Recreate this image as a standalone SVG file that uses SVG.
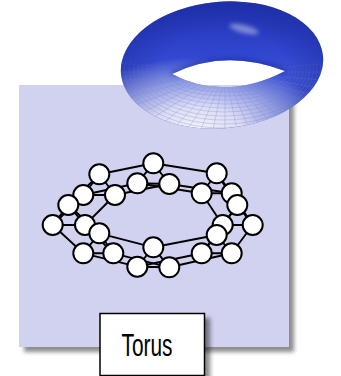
<svg xmlns="http://www.w3.org/2000/svg" width="341" height="376" viewBox="0 0 341 376">
  <defs>
    <filter id="dropShadow" x="-10%" y="-10%" width="130%" height="130%">
      <feGaussianBlur in="SourceAlpha" stdDeviation="2"/>
      <feOffset dx="5" dy="5" result="blur"/>
      <feComponentTransfer><feFuncA type="linear" slope="0.45"/></feComponentTransfer>
      <feMerge><feMergeNode/><feMergeNode in="SourceGraphic"/></feMerge>
    </filter>
    <filter id="softer" x="-50%" y="-50%" width="200%" height="200%">
      <feGaussianBlur stdDeviation="2"/>
    </filter>
    <!-- vertical shading of the torus body -->
    <linearGradient id="torusBody" gradientUnits="userSpaceOnUse" x1="0" y1="5" x2="0" y2="131">
      <stop offset="0" stop-color="#2234b4"/>
      <stop offset="0.4" stop-color="#3147d0"/>
      <stop offset="0.65" stop-color="#3e53d4"/>
      <stop offset="1" stop-color="#5a6bd8"/>
    </linearGradient>
    <!-- darker rim toward the silhouette -->
    <radialGradient id="torusRim" gradientUnits="userSpaceOnUse" cx="0" cy="0" r="104" gradientTransform="translate(224 70) scale(1 0.62)">
      <stop offset="0.6" stop-color="#1b2a9c" stop-opacity="0"/>
      <stop offset="1" stop-color="#1b2a9c" stop-opacity="0.45"/>
    </radialGradient>
    <!-- pale front of the tube -->
    <radialGradient id="torusFront" gradientUnits="userSpaceOnUse" cx="0" cy="0" r="120" gradientTransform="translate(195 132) scale(1.1 0.62)">
      <stop offset="0" stop-color="#fff" stop-opacity="0.95"/>
      <stop offset="0.35" stop-color="#f4f4fc" stop-opacity="0.85"/>
      <stop offset="0.65" stop-color="#e8eaf8" stop-opacity="0.5"/>
      <stop offset="1" stop-color="#e8eaf8" stop-opacity="0"/>
    </radialGradient>
    <linearGradient id="gridFade" gradientUnits="userSpaceOnUse" x1="0" y1="55" x2="0" y2="115">
      <stop offset="0" stop-color="#fff" stop-opacity="0"/>
      <stop offset="0.35" stop-color="#fff" stop-opacity="0.7"/>
      <stop offset="1" stop-color="#fff" stop-opacity="1"/>
    </linearGradient>
    <mask id="gridMask">
      <rect x="100" y="0" width="241" height="140" fill="url(#gridFade)"/>
    </mask>
    <clipPath id="torusClip">
      <path clip-rule="evenodd" d="M121,74 A101,63 -5 1 1 323,56 A101,63 -5 1 1 121,74 Z M172,74 Q225,48 285,71 Q225,102 172,74 Z"/>
    </clipPath>
    <style>
      .edge { stroke: #000; stroke-width: 1.9; fill: none; stroke-linejoin: round; }
      .node circle { fill: #fff; stroke: #000; stroke-width: 2; }
      .grid { stroke: #7c84bc; stroke-width: 0.5; fill: none; stroke-opacity: 0.6; }
      .label { font-family: "Liberation Sans", Arial, sans-serif; font-size: 32px; fill: #000; }
    </style>
  </defs>

  <rect width="341" height="376" fill="#fff"/>

  <!-- background panel -->
  <rect id="panel" x="19" y="85" width="270" height="262" fill="#d1d1f0" filter="url(#dropShadow)"/>

  <!-- shaded torus -->
  <g id="torus">
    <path fill-rule="evenodd" fill="url(#torusBody)" d="M121,74 A101,63 -5 1 1 323,56 A101,63 -5 1 1 121,74 Z M172,74 Q225,48 285,71 Q225,102 172,74 Z"/>
    <g clip-path="url(#torusClip)">
      <rect x="110" y="0" width="230" height="140" fill="url(#torusRim)"/>
      <rect x="110" y="0" width="230" height="140" fill="url(#torusFront)"/>
      <!-- inner rim shadow above the hole -->
      <path d="M172,74 Q225,48 285,71" stroke="#1c2a9a" stroke-width="6" fill="none" opacity="0.5" filter="url(#softer)"/>
      <!-- specular highlight -->
      <ellipse cx="244" cy="29" rx="15" ry="4" fill="#fff" opacity="0.4" transform="rotate(14 244 29)" filter="url(#softer)"/>
      <!-- wire grid over the front half -->
      <g class="grid" mask="url(#gridMask)">
        <ellipse cx="227" cy="73" rx="62" ry="19"/>
        <ellipse cx="226.5" cy="72.5" rx="66" ry="23.5"/>
        <ellipse cx="226" cy="72" rx="70" ry="28"/>
        <ellipse cx="225.5" cy="71.5" rx="74" ry="32.5"/>
        <ellipse cx="225" cy="71" rx="78" ry="37"/>
        <ellipse cx="224.5" cy="70.5" rx="82" ry="41.5"/>
        <ellipse cx="224" cy="70" rx="86" ry="46"/>
        <ellipse cx="223.5" cy="69.5" rx="90" ry="50.5"/>
        <ellipse cx="223" cy="69" rx="94" ry="55"/>
        <ellipse cx="222.5" cy="68.5" rx="98" ry="59.5"/>
        <path d="M225,72 L334.1,62.9 M225,72 L335,72 M225,72 L334.1,81.1 M225,72 L331.2,90.1 M225,72 L326.6,98.8 M225,72 L320.3,107 M225,72 L312.3,114.6 M225,72 L302.8,121.5 M225,72 L292,127.5 M225,72 L280,132.6 M225,72 L267.1,136.7 M225,72 L253.5,139.6 M225,72 L239.4,141.4 M225,72 L225,142 M225,72 L210.6,141.4 M225,72 L196.5,139.6 M225,72 L182.9,136.7 M225,72 L170,132.6 M225,72 L158,127.5 M225,72 L147.2,121.5 M225,72 L137.7,114.6 M225,72 L129.7,107 M225,72 L123.4,98.8 M225,72 L118.8,90.1 M225,72 L115.9,81.1 M225,72 L115,72 M225,72 L115.9,62.9"/>
      </g>
    </g>
  </g>

  <!-- graph connectors: three rings plus the triangle of each section -->
  <g id="connectors" class="edge">
    <!-- ring A -->
    <polygon points="153.3,163.3 216.7,173.3 237.3,205 216.7,235 153.3,247.3 99.3,233.3 68.3,205 99.3,174.3"/>
    <!-- ring L -->
    <polygon points="137.3,183.3 201.7,193.3 222.7,225 201.7,253.3 137.3,266.7 83.3,253.3 52.7,225 83.3,195"/>
    <!-- ring R -->
    <polygon points="169.3,184 231.7,193.3 252.7,225 231.7,253.3 169.3,267.3 113.3,253.3 85,225 115,195"/>
    <!-- sections -->
    <polygon points="153.3,163.3 137.3,183.3 169.3,184"/>
    <polygon points="216.7,173.3 201.7,193.3 231.7,193.3"/>
    <polygon points="237.3,205 222.7,225 252.7,225"/>
    <polygon points="216.7,235 201.7,253.3 231.7,253.3"/>
    <polygon points="153.3,247.3 137.3,266.7 169.3,267.3"/>
    <polygon points="99.3,233.3 83.3,253.3 113.3,253.3"/>
    <polygon points="68.3,205 52.7,225 85,225"/>
    <polygon points="99.3,174.3 83.3,195 115,195"/>
  </g>

  <!-- graph nodes -->
  <g id="n1" class="node"><circle cx="153.3" cy="163.3" r="10"/></g>
  <g id="n2" class="node"><circle cx="99.3" cy="174.3" r="10"/></g>
  <g id="n3" class="node"><circle cx="216.7" cy="173.3" r="10"/></g>
  <g id="n4" class="node"><circle cx="137.3" cy="183.3" r="10"/></g>
  <g id="n5" class="node"><circle cx="169.3" cy="184" r="10"/></g>
  <g id="n6" class="node"><circle cx="83.3" cy="195" r="10"/></g>
  <g id="n7" class="node"><circle cx="115" cy="195" r="10"/></g>
  <g id="n8" class="node"><circle cx="201.7" cy="193.3" r="10"/></g>
  <g id="n9" class="node"><circle cx="231.7" cy="193.3" r="10"/></g>
  <g id="n10" class="node"><circle cx="68.3" cy="205" r="10"/></g>
  <g id="n11" class="node"><circle cx="237.3" cy="205" r="10"/></g>
  <g id="n12" class="node"><circle cx="52.7" cy="225" r="10"/></g>
  <g id="n13" class="node"><circle cx="85" cy="225" r="10"/></g>
  <g id="n14" class="node"><circle cx="222.7" cy="225" r="10"/></g>
  <g id="n15" class="node"><circle cx="252.7" cy="225" r="10"/></g>
  <g id="n16" class="node"><circle cx="99.3" cy="233.3" r="10"/></g>
  <g id="n17" class="node"><circle cx="216.7" cy="235" r="10"/></g>
  <g id="n20" class="node"><circle cx="153.3" cy="247.3" r="10"/></g>
  <g id="n18" class="node"><circle cx="83.3" cy="253.3" r="10"/></g>
  <g id="n19" class="node"><circle cx="113.3" cy="253.3" r="10"/></g>
  <g id="n21" class="node"><circle cx="201.7" cy="253.3" r="10"/></g>
  <g id="n22" class="node"><circle cx="231.7" cy="253.3" r="10"/></g>
  <g id="n23" class="node"><circle cx="137.3" cy="266.7" r="10"/></g>
  <g id="n24" class="node"><circle cx="169.3" cy="267.3" r="10"/></g>

  <!-- caption box -->
  <g id="caption">
    <rect x="100" y="313.5" width="104.5" height="62" fill="#fff" stroke="#000" stroke-width="1.5" filter="url(#dropShadow)"/>
    <text class="label" x="121.5" y="355.5" textLength="51" lengthAdjust="spacingAndGlyphs">Torus</text>
  </g>
</svg>
